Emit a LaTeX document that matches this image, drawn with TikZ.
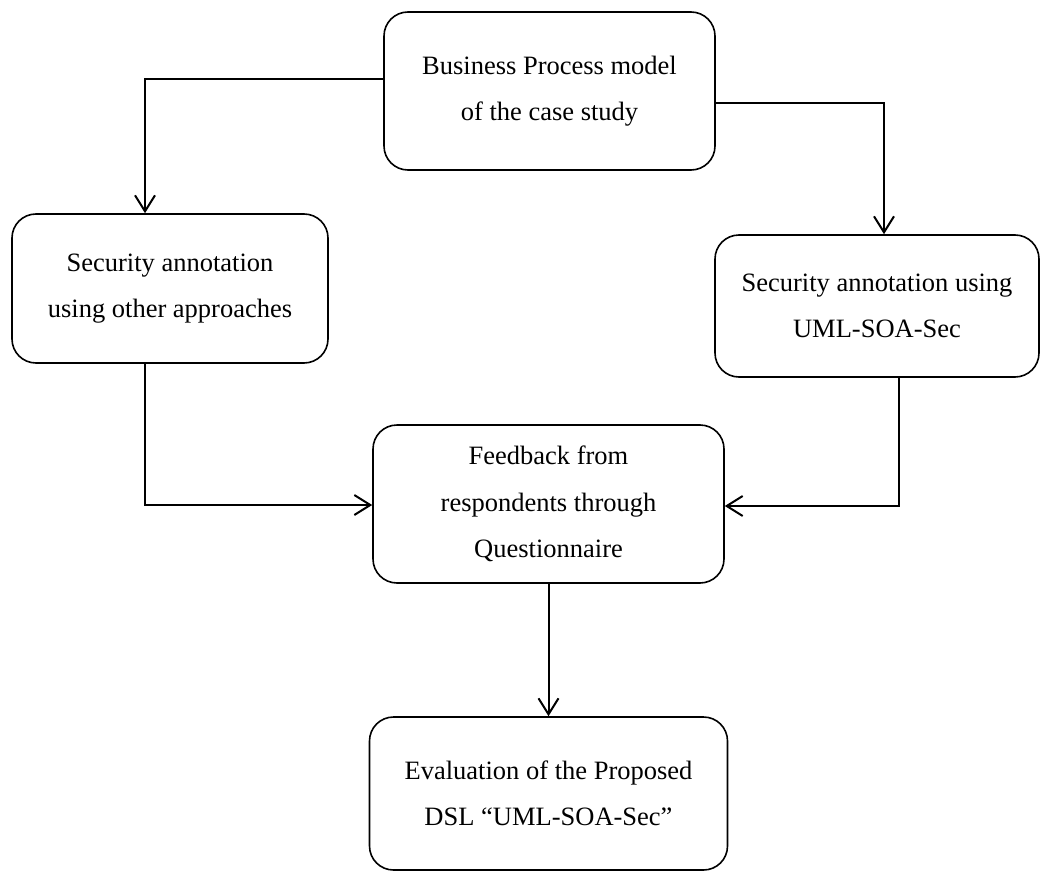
\documentclass[tikz,border=0pt]{standalone}
\usepackage{fontspec}
\setmainfont{Liberation Serif}
\usetikzlibrary{arrows.meta}

\tikzset{
  stepbox/.style={draw=black, line width=1.6pt, rounded corners=24pt,
    rectangle, align=center, inner sep=0pt,
    font=\fontsize{26.5}{46.5}\selectfont},
  conn/.style={draw=black, line width=2pt,
    -{Straight Barb[length=16pt, width=20pt, line width=2pt]}},
}

\begin{document}
\begin{tikzpicture}[x=1pt, y=-1pt]
  \useasboundingbox (0,0) rectangle (1041,872);

  % process steps
  \node[stepbox, minimum width=331pt, minimum height=158pt] (bpm) at (549.5,91)
    {Business Process model\\of the case study};
  \node[stepbox, minimum width=316pt, minimum height=149pt] (other) at (170,288.5)
    {Security annotation\\using other approaches};
  \node[stepbox, minimum width=324pt, minimum height=142pt] (umlsec) at (877,306)
    {Security annotation using\\UML-SOA-Sec};
  \node[stepbox, minimum width=351pt, minimum height=158pt] (feedback) at (548.5,504)
    {Feedback from\\respondents through\\Questionnaire};
  \node[stepbox, minimum width=358pt, minimum height=153pt] (eval) at (548.5,793.5)
    {Evaluation of the Proposed\\DSL \textquotedblleft UML-SOA-Sec\textquotedblright};

  % connectors
  \draw[conn] ([yshift=12pt]bpm.west) -| ([xshift=-25pt]other.north);
  \draw[conn] ([yshift=-12pt]bpm.east) -| ([xshift=7pt]umlsec.north);
  \draw[conn] ([xshift=-25pt]other.south) |- ([yshift=-1pt]feedback.west);
  \draw[conn] ([xshift=22pt]umlsec.south) |- ([yshift=-2pt]feedback.east);
  \draw[conn] (feedback.south) -- (eval.north);
\end{tikzpicture}
\end{document}
